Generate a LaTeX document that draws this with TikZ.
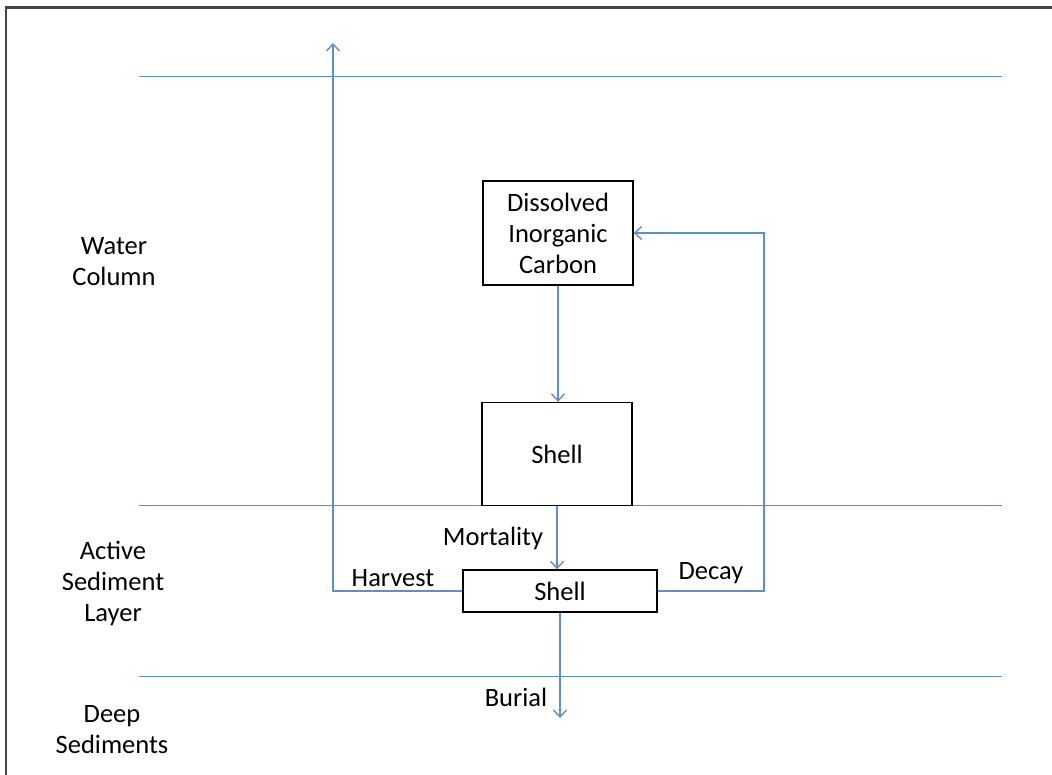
\documentclass[tikz,border=0pt]{standalone}
\usepackage{fontspec}
\setmainfont{Carlito}
\usetikzlibrary{arrows.meta}
\definecolor{flow}{RGB}{91,143,206}
\definecolor{frame}{RGB}{70,70,70}
\newcommand{\lblfont}{\fontsize{26.5}{31}\selectfont}
\begin{document}
\begin{tikzpicture}[x=1pt,y=-1pt,
  box/.style={draw=black, line width=1.3pt, fill=white, inner sep=0pt, align=center, font=\lblfont},
  flowline/.style={draw=flow, line width=1.5pt},
  arr/.style={flowline, -{Straight Barb[length=7pt,width=13pt,line width=1.4pt]}},
  lbl/.style={font=\lblfont, align=center, inner sep=0pt, text=black}]
\useasboundingbox (0,0) rectangle (1052,775);
% frame (top and left only)
\draw[frame, line width=2.2pt] (5,7.5) -- (1052,7.5);
\draw[frame, line width=2.2pt] (6,7.5) -- (6,775);
% layer boundaries
\coordinate (l1a) at (139,76.5);  \coordinate (l1b) at (1002,76.5);
\coordinate (l2a) at (139,505.5); \coordinate (l2b) at (1002,505.5);
\coordinate (l3a) at (139,676.5); \coordinate (l3b) at (1002,676.5);
\draw[flowline] (l1a) -- (l1b);
\draw[flowline] (l2a) -- (l2b);
\draw[flowline] (l3a) -- (l3b);
% layer labels
\node[lbl] (water) at (114,262) {Water\\Column};
\node[lbl] (active) at (113,583) {Active\\Sediment\\Layer};
\node[lbl] (deep) at (112,730) {Deep\\Sediments};
% boxes
\node[box, minimum width=150pt, minimum height=104pt] (dic) at (558,233) {Dissolved\\Inorganic\\Carbon};
\node[box, minimum width=150pt, minimum height=103pt] (shellA) at (557,454) {Shell};
\node[box, minimum width=194pt, minimum height=42pt] (shellB) at (560,591) {Shell};
% free ends
\coordinate (harvestEnd) at (333,43);
\coordinate (decayCorner) at (764,591);
\coordinate (burialEnd) at (560,718);
% connectors
\draw[arr] (dic.south) -- (dic.south |- shellA.north);
\draw[arr] (shellA.south) -- (shellA.south |- shellB.north);
\draw[arr] (shellB.west) -| (harvestEnd);
\draw[arr] (shellB.east) -- (decayCorner) |- (dic.east);
\draw[arr] (shellB.south) -- (burialEnd);
% flow labels
\node[lbl] (mortality) at (493,538) {Mortality};
\node[lbl] (harvest) at (393,578) {Harvest};
\node[lbl] (decay) at (711,573) {Decay};
\node[lbl] (burial) at (516,697) {Burial};
\end{tikzpicture}
\end{document}
